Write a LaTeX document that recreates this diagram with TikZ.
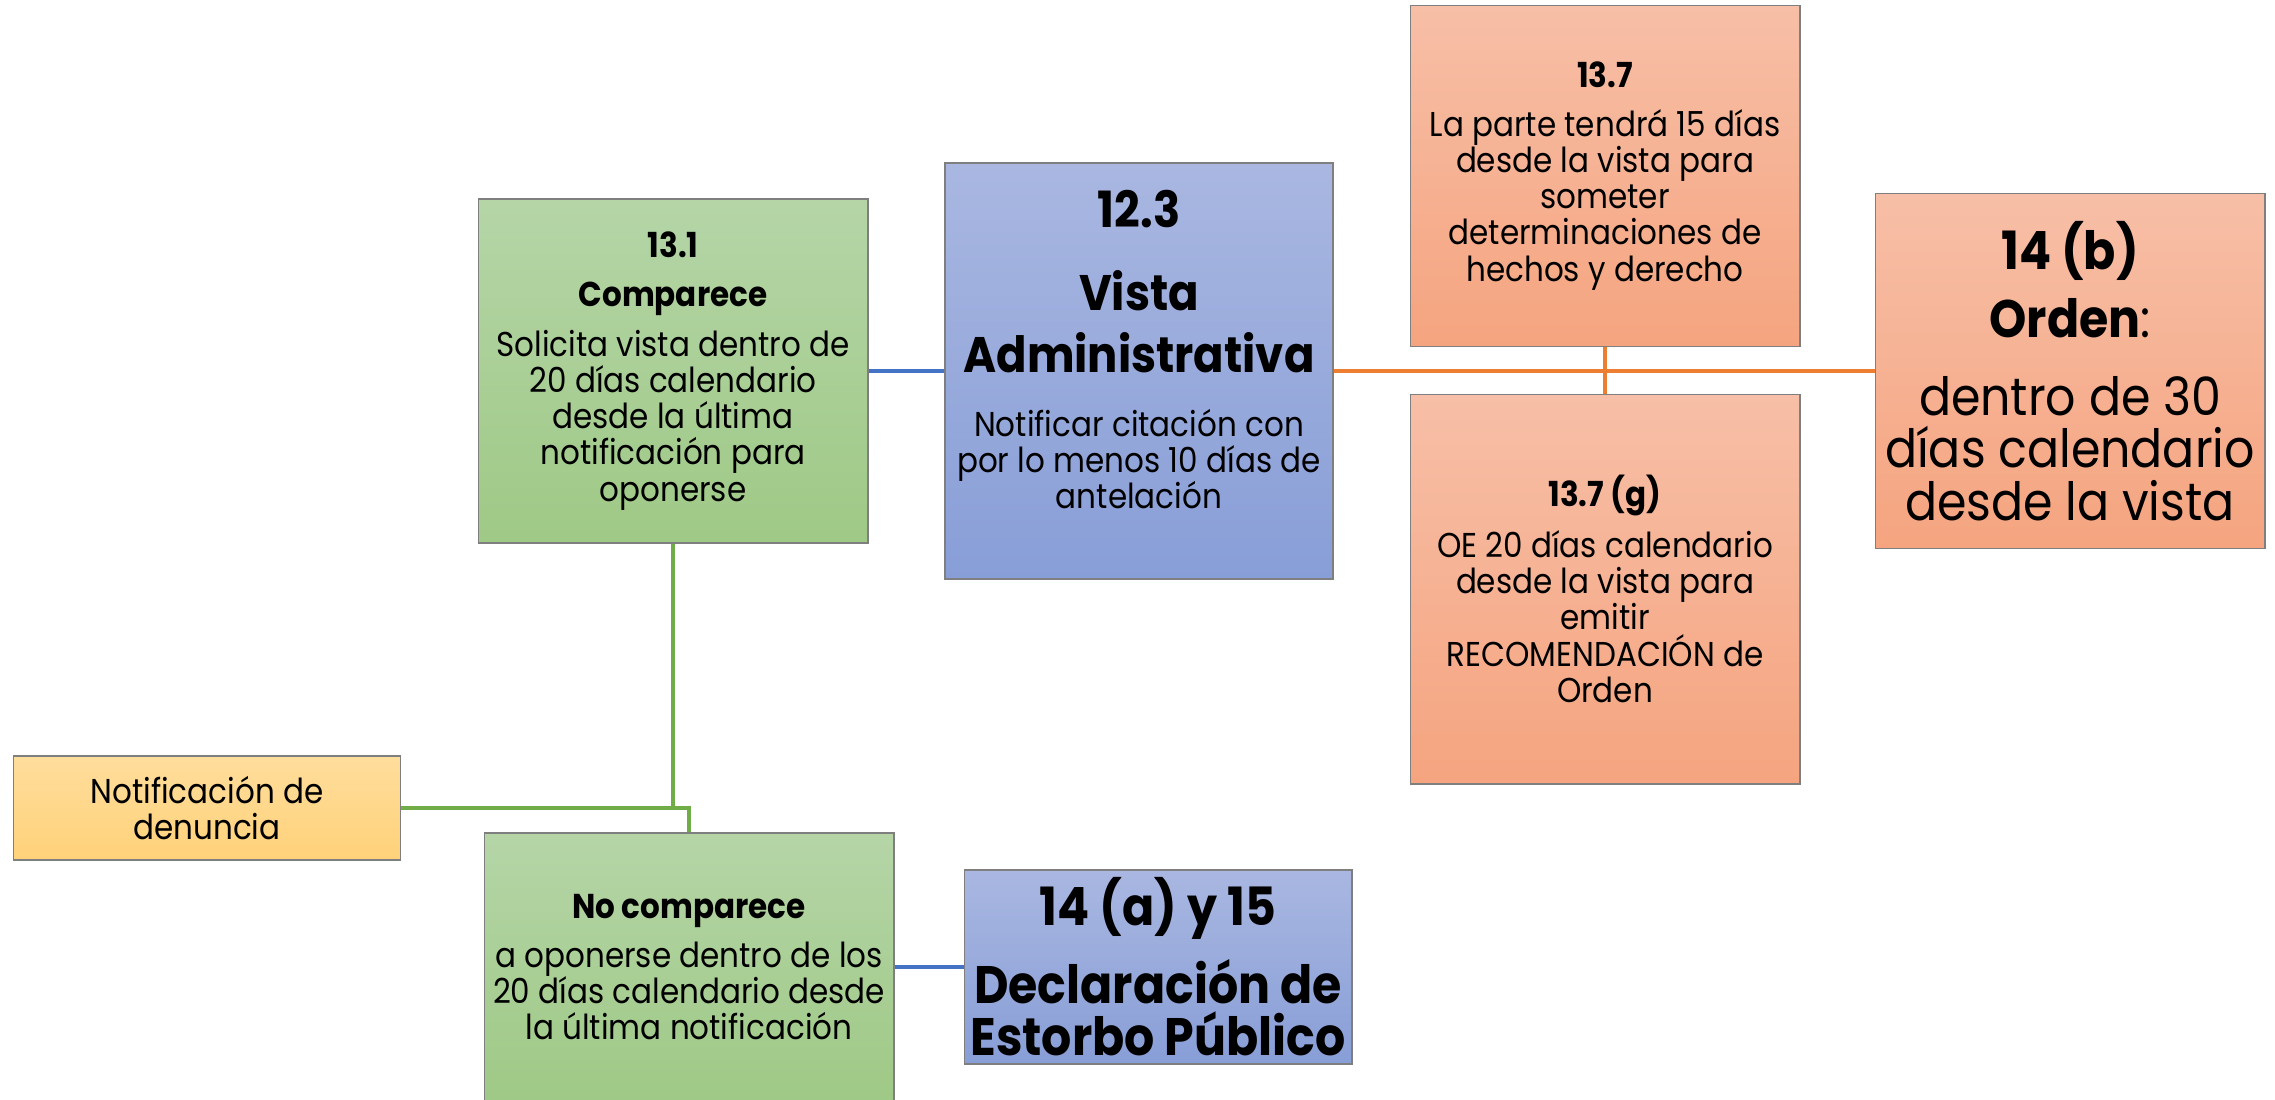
\documentclass[tikz,border=0pt]{standalone}
\usepackage{fontspec}
\setmainfont{Poppins}[FakeStretch=0.9]
\definecolor{greentop}{HTML}{B5D5A7}
\definecolor{greenbot}{HTML}{9FC986}
\definecolor{bluetop}{HTML}{A9B7E1}
\definecolor{bluebot}{HTML}{889ED7}
\definecolor{orangetop}{HTML}{F7BFA7}
\definecolor{orangebot}{HTML}{F5A47F}
\definecolor{yellowtop}{HTML}{FFDD9C}
\definecolor{yellowbot}{HTML}{FFD27A}
\definecolor{boxline}{HTML}{7F7F7F}
\definecolor{linkblue}{HTML}{4472C4}
\definecolor{linkorange}{HTML}{ED7D31}
\definecolor{linkgreen}{HTML}{70AD47}
\newcommand{\smalltext}{\fontsize{9.8}{10.3}\selectfont}
\newcommand{\bigtext}{\fontsize{15}{15}\selectfont}
\newcommand{\titletext}{\fontsize{14.2}{15}\selectfont\bfseries}
\tikzset{
  box/.style={draw=boxline, line width=0.5pt, align=center, inner sep=0pt, font=\smalltext},
  greenbox/.style={box, top color=greentop, bottom color=greenbot},
  bluebox/.style={box, top color=bluetop, bottom color=bluebot},
  orangebox/.style={box, top color=orangetop, bottom color=orangebot},
  yellowbox/.style={box, top color=yellowtop, bottom color=yellowbot},
  link/.style={line width=0.9pt},
}
\begin{document}
\begin{tikzpicture}[x=0.01cm, y=-0.01cm]
  \useasboundingbox (0,0) rectangle (2275,1099);
  \node[greenbox, minimum width=3.89cm, minimum height=3.44cm] (comp) at (673,371)
    {\textbf{13.1}\\[3.7pt]\textbf{Comparece}\\[3.7pt]Solicita vista dentro de\\20 días calendario\\desde la última\\notificación para\\oponerse};
  \node[bluebox, minimum width=3.88cm, minimum height=4.16cm] (vista) at (1139,371)
    {\titletext 12.3\\[11.1pt]\titletext Vista\\[5pt]\titletext Administrativa\\[7.9pt]Notificar citación con\\por lo menos 10 días de\\antelación\\[2pt]\mbox{}};
  \node[orangebox, minimum width=3.89cm, minimum height=3.41cm] (sec137) at (1605,176)
    {\textbf{13.7}\\[3.5pt]La parte tendrá 15 días\\desde la vista para\\someter\\determinaciones de\\hechos y derecho};
  \node[orangebox, minimum width=3.89cm, minimum height=3.89cm] (sec137g) at (1605,589)
    {\textbf{13.7 (g)}\\[3pt]OE 20 días calendario\\desde la vista para\\emitir\\RECOMENDACIÓN de\\Orden};
  \node[orangebox, minimum width=3.89cm, minimum height=3.55cm, font=\bigtext] (orden) at (2070,371)
    {\textbf{14 (b)}\\[4.5pt]\textbf{Orden}:\\[7pt]dentro de 30\\días calendario\\desde la vista};
  \node[yellowbox, minimum width=3.87cm, minimum height=1.04cm] (notif) at (207,808)
    {Notificación de\\denuncia};
  \node[greenbox, minimum width=4.09cm, minimum height=2.68cm] (nocomp) at (689,967)
    {\textbf{No comparece}\\[3.5pt]a oponerse dentro de los\\20 días calendario desde\\la última notificación};
  \node[bluebox, minimum width=3.87cm, minimum height=1.94cm, font=\bigtext\bfseries] (declara) at (1158,967)
    {14 (a) y 15\\[4.5pt]Declaración de\\Estorbo Público};
  \draw[link, linkblue] (comp.east) -- (vista.west);
  \draw[link, linkorange] (vista.east) -- (orden.west);
  \draw[link, linkorange] (sec137.south) -- (sec137g.north);
  \draw[link, linkgreen] (comp.south) -- (comp.south |- notif.east);
  \draw[link, linkgreen] (notif.east) -| (nocomp.north);
  \draw[link, linkblue] (nocomp.east) -- (declara.west);
\end{tikzpicture}
\end{document}
